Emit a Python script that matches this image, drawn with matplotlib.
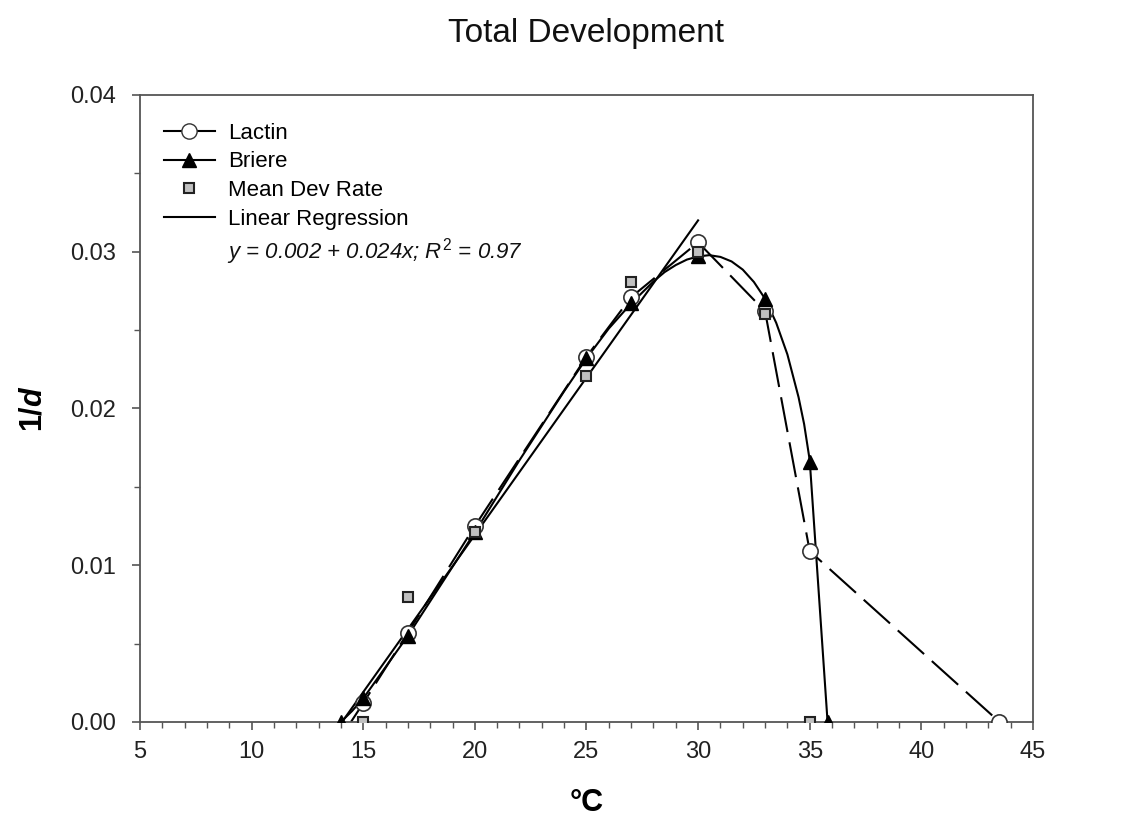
import matplotlib
matplotlib.use("Agg")
import matplotlib.pyplot as plt
from matplotlib.lines import Line2D

plt.rcParams["font.family"] = ["Liberation Sans", "DejaVu Sans"]
plt.rcParams["mathtext.fontset"] = "custom"
plt.rcParams["mathtext.rm"] = "Liberation Sans"
plt.rcParams["mathtext.it"] = "Liberation Sans:italic"
plt.rcParams["mathtext.bf"] = "Liberation Sans:bold"
plt.rcParams["mathtext.bfit"] = "Liberation Sans:bold:italic"

# --- data ---
# Lactin model (open circles, dashed line)
lactin_t = [15, 17, 20, 25, 27, 30, 33, 35, 43.5]
lactin_r = [0.0012, 0.0057, 0.0125, 0.0233, 0.0271, 0.0306, 0.0262, 0.0109, 0.0]
lactin_line_t = [14.45, 15, 17, 20, 25, 27, 30, 33, 35, 43.5]
lactin_line_r = [0.0, 0.0012, 0.0057, 0.0125, 0.0233, 0.0271, 0.0306, 0.0262, 0.0109, 0.0]

# Briere model (filled triangles, solid curve)
briere_t = [14, 15, 17, 20, 25, 27, 30, 33, 35, 35.8]
briere_r = [0.0, 0.0015, 0.0055, 0.0121, 0.0232, 0.0267, 0.0297, 0.0270, 0.0166, 0.0]
briere_line_t = [14, 14.5, 15, 16, 17, 18, 19, 20, 21, 22, 23, 24, 25, 26, 27, 28,
                 28.5, 29, 29.5, 30, 30.5, 31, 31.5, 32, 32.5, 33, 33.5, 34, 34.5,
                 34.75, 35, 35.8]
briere_line_r = [0.0, 0.0007, 0.0015, 0.0035, 0.0055, 0.0077, 0.0099, 0.0121,
                 0.0144, 0.0167, 0.0189, 0.0211, 0.0232, 0.0251, 0.0267, 0.0281,
                 0.0287, 0.02915, 0.0295, 0.0297, 0.02978, 0.02967, 0.02938,
                 0.02886, 0.02807, 0.0270, 0.02546, 0.02345, 0.02072, 0.0190,
                 0.0167, 0.0]

# mean development rate (gray squares)
mean_t = [15, 17, 20, 25, 27, 30, 33, 35]
mean_r = [0.0, 0.0080, 0.0121, 0.0221, 0.0281, 0.0300, 0.0260, 0.0]

# linear regression line end points
reg_t = [14.05, 30]
reg_r = [0.0, 0.032]

fig = plt.figure(figsize=(11.39, 8.31), dpi=100)
ax = fig.add_axes([0.1229, 0.1312, 0.784, 0.7545])

ax.plot(reg_t, reg_r, color="black", lw=1.5, zorder=2)
ax.plot(lactin_line_t, lactin_line_r, color="black", lw=1.5, dashes=(17, 5), zorder=2)
ax.plot(briere_line_t, briere_line_r, color="black", lw=1.5, zorder=2)

ax.plot(lactin_t, lactin_r, "o", ms=11, mfc="white", mec="#333333", mew=1.2, zorder=3)
ax.plot(briere_t, briere_r, "^", ms=10, color="black", zorder=4)
ax.plot(mean_t, mean_r, "s", ms=7, mfc="#c0c0c0", mec="#222222", mew=1.5, zorder=5)

ax.set_xlim(5, 45)
ax.set_ylim(0, 0.04)
ax.set_xticks(range(5, 46, 5))
ax.set_xticks(range(5, 46, 1), minor=True)
ax.set_yticks([0.0, 0.01, 0.02, 0.03, 0.04])
ax.set_yticks([0.005, 0.015, 0.025, 0.035], minor=True)
ax.set_yticklabels(["0.00", "0.01", "0.02", "0.03", "0.04"])

for s in ax.spines.values():
    s.set_color("#555555")
    s.set_linewidth(1.3)
ax.tick_params(which="major", length=6, width=1.2, color="#555555",
               labelsize=17, labelcolor="#222222")
ax.tick_params(which="minor", length=4, width=1.0, color="#555555")
ax.tick_params(axis="y", which="major", pad=11)
ax.tick_params(axis="x", which="major", pad=8)

ax.set_title("Total Development", fontsize=24, color="#111111", pad=38)
ax.set_xlabel("°C", fontsize=22, fontweight="bold", labelpad=18)
ax.set_ylabel(r"$\mathbf{1/}\mathbfit{d}$", fontsize=22, labelpad=16)

handles = [
    Line2D([], [], color="black", lw=1.5, marker="o", ms=11, mfc="white", mec="#333333"),
    Line2D([], [], color="black", lw=1.5, marker="^", ms=10, mfc="black", mec="black"),
    Line2D([], [], ls="none", marker="s", ms=7, mfc="#c0c0c0", mec="#222222", mew=1.5),
    Line2D([], [], color="black", lw=1.5),
]
labels = ["Lactin", "Briere", "Mean Dev Rate", "Linear Regression"]
ax.legend(handles, labels, loc="upper left", bbox_to_anchor=(0.0167, 0.97),
          frameon=False, fontsize=16, handlelength=2.3, handletextpad=0.6,
          labelspacing=0.35, borderaxespad=0)

ax.text(0.0972, 0.751, r"$y$ = 0.002 + 0.024$x$; $R^2$ = 0.97", transform=ax.transAxes,
        fontsize=16, style="italic", va="center", ha="left", color="#111111")

plt.savefig("out.png", dpi=100)
